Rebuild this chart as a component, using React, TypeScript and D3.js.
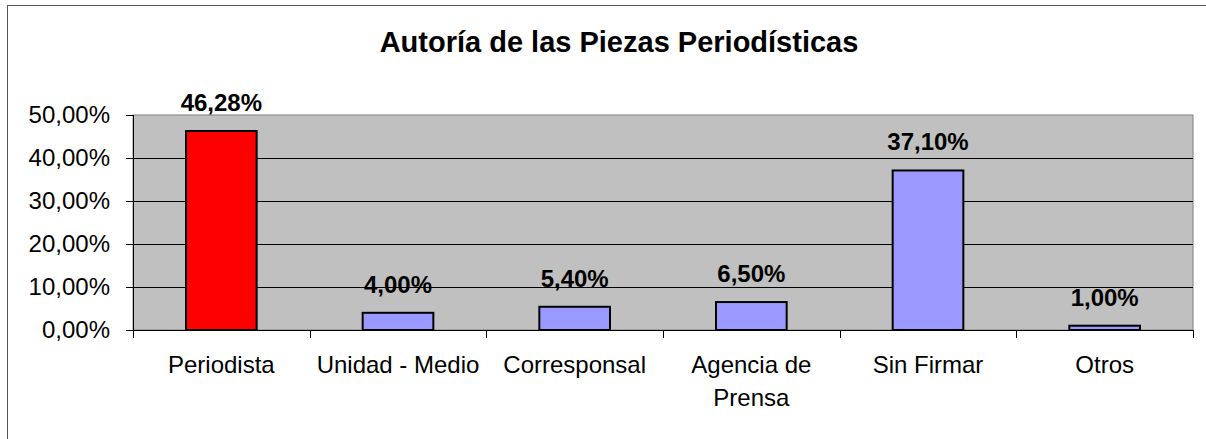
import React from "react";
import * as d3 from "d3";

const categories = ["Periodista", "Unidad - Medio", "Corresponsal", "Agencia de Prensa", "Sin Firmar", "Otros"];
const values = [46.28, 4.0, 5.4, 6.5, 37.1, 1.0];
const barColors = ["#FF0000", "#9999FF", "#9999FF", "#9999FF", "#9999FF", "#9999FF"];
const yTicks = [0, 10, 20, 30, 40, 50];
const title = "Autoría de las Piezas Periodísticas";

const fmt = (v: number) => v.toFixed(2).replace(".", ",") + "%";

// x labels that wrap in the original
const labelLines: Record<string, string[]> = {
  "Agencia de Prensa": ["Agencia de", "Prensa"],
};

export default function App() {
  const width = 1206;
  const height = 439;
  const plot = { left: 133, top: 115, right: 1193, bottom: 330 };
  const font = "'Liberation Sans', Arial, sans-serif";

  const x = d3
    .scaleBand<string>()
    .domain(categories)
    .range([plot.left, plot.right])
    .paddingInner(0)
    .paddingOuter(0);
  const y = d3.scaleLinear().domain([0, 50]).range([plot.bottom, plot.top]);
  const barW = x.bandwidth() * 0.4;

  return (
    <div style={{ position: "absolute", left: 0, top: 0, width, height, overflow: "hidden" }}>
      <svg width={width} height={height} style={{ display: "block", background: "#fff", overflow: "hidden" }}>
        {/* outer chart border, cut off at right/bottom */}
        <line x1={7.5} x2={7.5} y1={5} y2={height} stroke="#555" />
        <line x1={7} x2={width} y1={5.5} y2={5.5} stroke="#555" />

        <text x={619} y={52} textAnchor="middle" fontFamily={font} fontWeight="bold" fontSize={29}>
          {title}
        </text>

        {/* plot area */}
        <rect x={plot.left} y={plot.top} width={plot.right - plot.left} height={plot.bottom - plot.top} fill="#C0C0C0" stroke="#808080" strokeWidth={1} />

        {yTicks.map((t) => (
          <g key={t}>
            {t > 0 && t < 50 && (
              <line x1={plot.left} x2={plot.right} y1={Math.round(y(t)) + 0.5} y2={Math.round(y(t)) + 0.5} stroke="#000" strokeWidth={1} />
            )}
            <line x1={plot.left - 7} x2={plot.left} y1={Math.round(y(t)) + 0.5} y2={Math.round(y(t)) + 0.5} stroke="#000" />
            <text x={110} y={y(t) + 8} textAnchor="end" fontFamily={font} fontSize={24}>
              {fmt(t)}
            </text>
          </g>
        ))}

        {/* axes */}
        <line x1={plot.left + 0.5} x2={plot.left + 0.5} y1={plot.top} y2={plot.bottom} stroke="#000" />
        <line x1={plot.left} x2={plot.right} y1={plot.bottom + 0.5} y2={plot.bottom + 0.5} stroke="#000" />
        {d3.range(categories.length + 1).map((i) => {
          const xx = Math.round(plot.left + i * x.step()) + 0.5;
          return <line key={i} x1={xx} x2={xx} y1={plot.bottom} y2={plot.bottom + 8} stroke="#000" />;
        })}

        {categories.map((c, i) => {
          const cx = (x(c) as number) + x.bandwidth() / 2;
          const top = y(values[i]);
          const lines = labelLines[c] || [c];
          return (
            <g key={c}>
              <rect x={cx - barW / 2} y={top} width={barW} height={plot.bottom - top} fill={barColors[i]} stroke="#000" strokeWidth={2} />
              <text x={cx} y={top - 20} textAnchor="middle" fontFamily={font} fontWeight="bold" fontSize={24}>
                {fmt(values[i])}
              </text>
              {lines.map((l, j) => (
                <text key={j} x={cx} y={373 + j * 33} textAnchor="middle" fontFamily={font} fontSize={24}>
                  {l}
                </text>
              ))}
            </g>
          );
        })}
      </svg>
    </div>
  );
}
